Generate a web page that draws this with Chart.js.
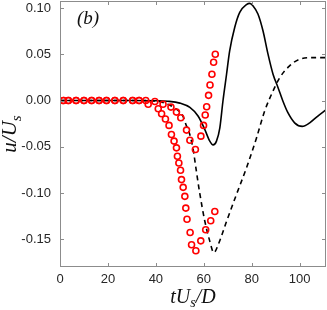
<!DOCTYPE html>
<html>
<head>
<meta charset="utf-8">
<script src="https://cdn.jsdelivr.net/npm/chart.js@4.4.0/dist/chart.umd.min.js"></script>
<style>
  body { margin: 0; background: #fff; }
  #wrap { width: 327px; height: 310px; }
</style>
</head>
<body>
<div id="wrap"><canvas id="myChart" width="327" height="310"></canvas></div>
<script>
// model curves
const solidT = [0, 10, 20, 30, 40, 45, 50, 54.2, 57.6, 60.4, 62.5, 63.9, 65.3, 66.7, 68, 69.5, 70.8, 72.9, 75, 77.8, 79.2, 80.5, 82.6, 84.7, 86.8, 88.9, 91, 93, 95.1, 97.9, 101.1, 104.2, 107.6, 111];
const solidU = [0, 0, 0, 0, -0.0002, -0.0008, -0.0028, -0.0075, -0.0168, -0.0312, -0.0439, -0.048, -0.0439, -0.0295, -0.0005, 0.0284, 0.0537, 0.079, 0.0953, 0.1036, 0.105, 0.1025, 0.0935, 0.0754, 0.0501, 0.0284, 0.0139, -0.0005, -0.0132, -0.0241, -0.028, -0.0241, -0.0168, -0.0100];

const dashT = [0, 10, 20, 30, 40, 45, 47.2, 50, 51.4, 52.8, 53.5, 55.5, 57, 58.3, 60.4, 62.5, 64.2, 66, 69.5, 73.6, 77.8, 82, 85.4, 88.9, 91.7, 95.8, 100, 105.5, 111];
const dashU = [0, 0, 0, 0, -0.0005, -0.004, -0.007, -0.0125, -0.0175, -0.0277, -0.0312, -0.052, -0.078, -0.1, -0.13, -0.152, -0.1645, -0.156, -0.1307, -0.1018, -0.0729, -0.0404, -0.0114, 0.0103, 0.0247, 0.0374, 0.0447, 0.0464, 0.0464];

// circle data
const circAT = [1.4, 3.5, 6.7, 10, 13.2, 16.3, 19.4, 22.9, 26.4, 30.3, 33, 35.8, 39.6, 43, 46.3, 48.6, 50.4, 52.8, 54.2, 56.5, 58.8, 59.9, 60.6, 61.2, 62, 62.6, 63.4, 64.1, 64.8];
const circAU = [0, 0, 0, 0, 0, 0, 0, 0, 0, 0, 0, 0, -0.001, -0.0041, -0.0071, -0.0125, -0.0187, -0.032, -0.0429, -0.053, -0.0385, -0.0269, -0.0157, -0.0067, 0.0056, 0.0168, 0.0284, 0.0414, 0.0501];

const circBT = [1.4, 3.5, 6.7, 10, 13.2, 16.3, 19.4, 22.9, 26.4, 30.3, 33, 36.8, 41, 42.4, 44, 45.5, 46.5, 47.6, 48.6, 49, 49.6, 50.3, 50.7, 51.4, 52.1, 52.5, 53, 54.3, 54.9, 56.7, 58.75, 60.8, 62.9, 64.6];
const circBU = [0, 0, 0, 0, 0, 0, 0, 0, 0, 0, 0, -0.0041, -0.0089, -0.0143, -0.020, -0.0269, -0.0367, -0.0439, -0.0512, -0.0602, -0.0675, -0.0754, -0.0855, -0.0939, -0.1036, -0.1163, -0.1283, -0.1427, -0.156, -0.1625, -0.1517, -0.1398, -0.13, -0.12];

const xTicks = [0, 20, 40, 60, 80, 100];
const yTicks = [-0.15, -0.10, -0.05, 0, 0.05, 0.10];

const xTitle = ['tU', 's', '/D'];
const yTitle = ['u/U', 's'];
const panelLabel = '(b)';

const pts = (xs, ys) => xs.map((v, i) => ({x: v, y: ys[i]}));

// draw "main" + small subscript + "main"
function drawSub(ctx, parts, size, cx, base) {
  const big = 'italic ' + size + 'px "Liberation Serif", serif';
  const small = 'italic ' + Math.round(size * 0.7) + 'px "Liberation Serif", serif';
  const items = parts.map((t, i) => ({t, f: i % 2 ? small : big, dy: i % 2 ? size * 0.22 : 0}));
  let w = 0;
  items.forEach(it => { ctx.font = it.f; it.w = ctx.measureText(it.t).width; w += it.w; });
  let x = cx - w / 2;
  ctx.textAlign = 'left';
  ctx.textBaseline = 'alphabetic';
  items.forEach(it => { ctx.font = it.f; ctx.fillText(it.t, x, base + it.dy); x += it.w; });
}

const frame = {
  id: 'frame',
  afterDraw(chart) {
    const {ctx, chartArea: a, scales: {x, y}} = chart;
    ctx.save();
    ctx.strokeStyle = '#8c8c8c';
    ctx.lineWidth = 1;
    ctx.strokeRect(a.left + 0.5, a.top + 0.5, a.right - a.left - 1, a.bottom - a.top - 1);
    ctx.beginPath();
    xTicks.forEach(v => {
      const p = Math.round(x.getPixelForValue(v)) + 0.5;
      ctx.moveTo(p, a.bottom); ctx.lineTo(p, a.bottom - 4);
      ctx.moveTo(p, a.top); ctx.lineTo(p, a.top + 4);
    });
    yTicks.forEach(v => {
      const p = Math.round(y.getPixelForValue(v)) + 0.5;
      ctx.moveTo(a.left, p); ctx.lineTo(a.left + 4, p);
      ctx.moveTo(a.right, p); ctx.lineTo(a.right - 4, p);
    });
    ctx.stroke();

    ctx.fillStyle = '#111';
    drawSub(ctx, xTitle, 20, (a.left + a.right) / 2, 303);
    ctx.translate(16, (a.top + a.bottom) / 2);
    ctx.rotate(-Math.PI / 2);
    drawSub(ctx, yTitle, 21, 0, 0);
    ctx.setTransform(1, 0, 0, 1, 0, 0);
    ctx.font = 'italic 19px "Liberation Serif", serif';
    ctx.textAlign = 'left';
    ctx.fillText(panelLabel, 77, 24);
    ctx.restore();
  }
};

const ctx = document.getElementById('myChart').getContext('2d');
const myChart = new Chart(ctx, {
  type: 'scatter',
  data: {
    datasets: [
      {
        data: pts(circAT, circAU),
        showLine: false,
        pointStyle: 'circle',
        pointRadius: 3,
        pointBorderWidth: 1.6,
        pointBorderColor: '#ff0000',
        pointBackgroundColor: 'rgba(0,0,0,0)'
      },
      {
        data: pts(circBT, circBU),
        showLine: false,
        pointStyle: 'circle',
        pointRadius: 3,
        pointBorderWidth: 1.6,
        pointBorderColor: '#ff0000',
        pointBackgroundColor: 'rgba(0,0,0,0)'
      },
      {
        data: pts(solidT, solidU),
        showLine: true,
        borderColor: '#000',
        borderWidth: 1.6,
        pointRadius: 0,
        cubicInterpolationMode: 'monotone'
      },
      {
        data: pts(dashT, dashU),
        showLine: true,
        borderColor: '#000',
        borderWidth: 1.6,
        borderDash: [5, 4],
        pointRadius: 0,
        cubicInterpolationMode: 'monotone'
      }
    ]
  },
  options: {
    responsive: false,
    animation: false,
    events: [],
    layout: { autoPadding: false, padding: { top: 1, right: 1, left: 0, bottom: 0 } },
    plugins: { legend: { display: false }, tooltip: { enabled: false } },
    scales: {
      x: {
        type: 'linear',
        min: 0,
        max: 111,
        grid: { display: false, drawTicks: false },
        border: { display: false },
        afterBuildTicks: s => { s.ticks = xTicks.map(v => ({value: v})); },
        afterFit: s => { s.height = 43; s.paddingLeft = 0; s.paddingRight = 0; },
        ticks: {
          padding: 5,
          maxRotation: 0,
          color: '#262626',
          font: { family: '"Liberation Sans", Arial, sans-serif', size: 13 },
          callback: v => String(v)
        }
      },
      y: {
        min: -0.18,
        max: 0.1076,
        grid: { display: false, drawTicks: false },
        border: { display: false },
        afterBuildTicks: s => { s.ticks = yTicks.map(v => ({value: v})); },
        afterFit: s => { s.width = 60; s.paddingTop = 0; s.paddingBottom = 0; },
        ticks: {
          padding: 9,
          color: '#262626',
          font: { family: '"Liberation Sans", Arial, sans-serif', size: 13 },
          callback: v => v.toFixed(2)
        }
      }
    }
  },
  plugins: [frame]
});
</script>
</body>
</html>
